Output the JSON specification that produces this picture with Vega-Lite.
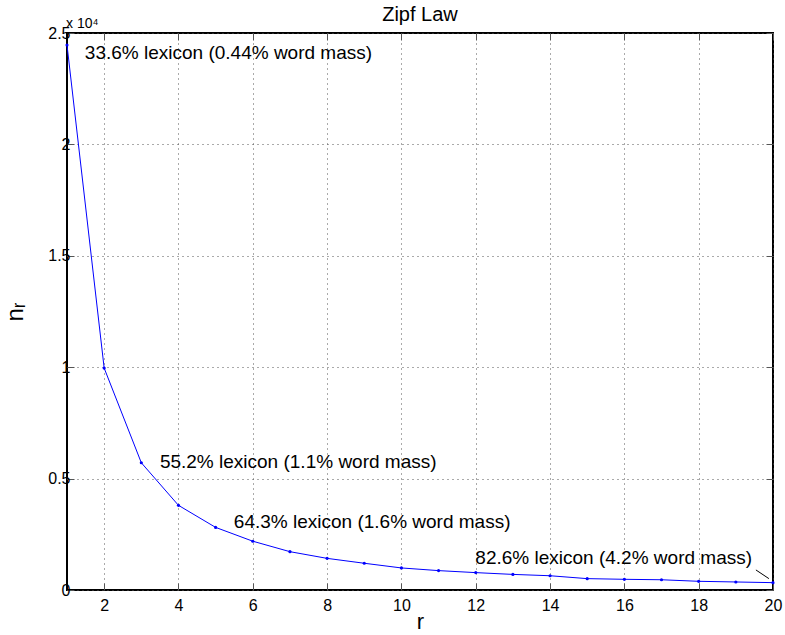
{
  "$schema": "https://vega.github.io/schema/vega-lite/v6.json",
  "width": 706,
  "height": 557,
  "autosize": {"type": "none"},
  "padding": {"left": 67, "top": 33, "right": 12, "bottom": 45},
  "background": "white",
  "title": {"text": "Zipf Law", "fontSize": 20, "font": "Liberation Sans", "fontWeight": "normal", "color": "#000", "offset": 12, "dy": 20},
  "config": {
    "view": {"stroke": "#000", "strokeWidth": 2},
    "axis": {"labelFont": "Liberation Sans", "titleFont": "Liberation Sans", "labelColor": "#000", "titleColor": "#000", "titleFontWeight": "normal", "labelFlush": false}
  },
  "datasets": {
    "zipf": [
      {"r": 1, "n": 24460}, {"r": 2, "n": 9960}, {"r": 3, "n": 5710}, {"r": 4, "n": 3800},
      {"r": 5, "n": 2810}, {"r": 6, "n": 2190}, {"r": 7, "n": 1720}, {"r": 8, "n": 1420},
      {"r": 9, "n": 1200}, {"r": 10, "n": 990}, {"r": 11, "n": 870}, {"r": 12, "n": 780},
      {"r": 13, "n": 700}, {"r": 14, "n": 640}, {"r": 15, "n": 510}, {"r": 16, "n": 480},
      {"r": 17, "n": 460}, {"r": 18, "n": 390}, {"r": 19, "n": 360}, {"r": 20, "n": 330}
    ],
    "notes": [
      {"r": 1.48, "n": 24100, "label": "33.6% lexicon (0.44% word mass)"},
      {"r": 3.5, "n": 5760, "label": "55.2% lexicon (1.1% word mass)"},
      {"r": 5.49, "n": 3070, "label": "64.3% lexicon (1.6% word mass)"},
      {"r": 11.99, "n": 1420, "label": "82.6% lexicon (4.2% word mass)"}
    ],
    "arrow": [{"r": 19.54, "n": 900, "r2": 19.89, "n2": 510}],
    "exp": [{"r": 1, "n": 25000, "label": "x 10⁴"}]
  },
  "resolve": {"axis": {"x": "independent", "y": "independent"}},
  "layer": [
    {
      "data": {"name": "zipf"},
      "mark": {"type": "line", "color": "#0000ff", "strokeWidth": 1, "point": {"filled": true, "size": 10, "color": "#0000ff"}},
      "encoding": {
        "x": {"field": "r", "type": "quantitative", "scale": {"domain": [1, 20], "nice": false, "zero": false},
          "axis": {"orient": "bottom", "values": [2,4,6,8,10,12,14,16,18,20], "title": "r", "titleFontSize": 22, "titlePadding": -2,
            "labelFontSize": 16, "labelPadding": 14, "tickSize": -7, "tickColor": "#555", "domain": false,
            "grid": true, "gridDash": [1, 4], "gridColor": "#555", "gridWidth": 1}},
        "y": {"field": "n", "type": "quantitative", "scale": {"domain": [0, 25000], "nice": false},
          "axis": {"orient": "left", "values": [0, 5000, 10000, 15000, 20000, 25000], "labelExpr": "datum.value/10000", "title": "nᵣ", "titleFontSize": 24, "titlePadding": 20,
            "labelFontSize": 16, "labelPadding": 4, "tickSize": -7, "tickColor": "#555", "domain": false,
            "grid": true, "gridDash": [1, 4], "gridColor": "#555", "gridWidth": 1}}
      }
    },
    {
      "data": {"name": "zipf"},
      "mark": {"type": "point", "opacity": 0},
      "encoding": {
        "x": {"field": "r", "type": "quantitative", "axis": {"orient": "top", "values": [2,4,6,8,10,12,14,16,18,20], "labels": false, "title": null, "tickSize": -7, "tickColor": "#555", "domain": false, "grid": false}},
        "y": {"field": "n", "type": "quantitative", "axis": {"orient": "right", "values": [0, 5000, 10000, 15000, 20000, 25000], "labels": false, "title": null, "tickSize": -7, "tickColor": "#555", "domain": false, "grid": false}}
      }
    },
    {
      "data": {"name": "notes"},
      "mark": {"type": "text", "align": "left", "baseline": "middle", "fontSize": 19, "font": "Liberation Sans", "color": "#000"},
      "encoding": {
        "x": {"field": "r", "type": "quantitative", "axis": null},
        "y": {"field": "n", "type": "quantitative", "axis": null},
        "text": {"field": "label"}
      }
    },
    {
      "data": {"name": "arrow"},
      "mark": {"type": "rule", "color": "#000", "strokeWidth": 1},
      "encoding": {
        "x": {"field": "r", "type": "quantitative", "axis": null},
        "y": {"field": "n", "type": "quantitative", "axis": null},
        "x2": {"field": "r2"},
        "y2": {"field": "n2"}
      }
    },
    {
      "data": {"name": "exp"},
      "mark": {"type": "text", "align": "left", "baseline": "alphabetic", "fontSize": 14, "font": "Liberation Sans", "color": "#000", "dx": -1, "dy": -5, "clip": false},
      "encoding": {
        "x": {"field": "r", "type": "quantitative", "axis": null},
        "y": {"field": "n", "type": "quantitative", "axis": null},
        "text": {"field": "label"}
      }
    }
  ]
}
